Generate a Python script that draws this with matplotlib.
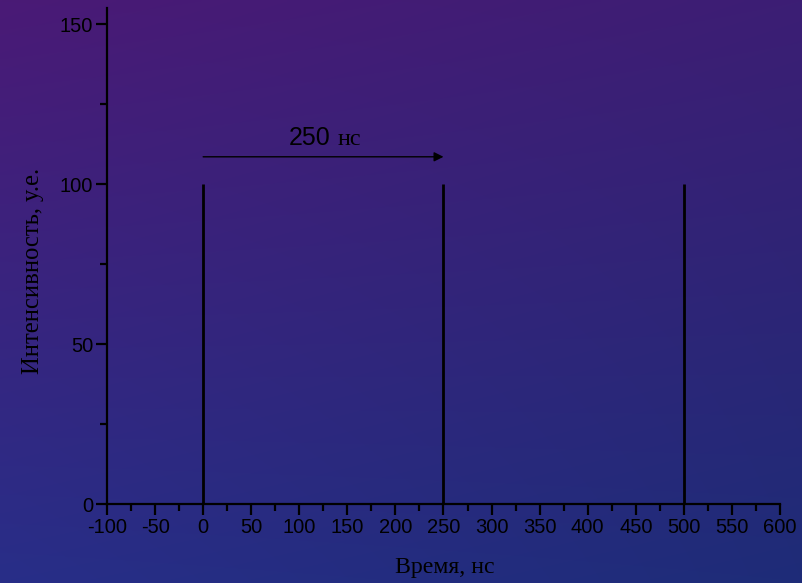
import numpy as np
import matplotlib
matplotlib.use("Agg")
import matplotlib.pyplot as plt
from matplotlib.ticker import MultipleLocator

plt.rcParams["axes.unicode_minus"] = False

# Pulse train: arrival times (ns) and intensities (a.u.)
pulse_times = [0, 250, 500]
pulse_heights = [100, 100, 100]
period_label = "250"
period_unit = "нс"
x_ticks = [-100, -50, 0, 50, 100, 150, 200, 250, 300, 350, 400, 450, 500, 550, 600]
y_ticks = [0, 50, 100, 150]

W, H = 803, 583
fig = plt.figure(figsize=(W / 100, H / 100), dpi=100)

# Purple-to-blue backdrop (bilinear blend between corner colours)
bg = fig.add_axes([0, 0, 1, 1], zorder=-10)
tl = np.array([74, 26, 118]) / 255
tr = np.array([60, 30, 116]) / 255
bl = np.array([40, 46, 136]) / 255
br = np.array([30, 44, 120]) / 255
ny, nx = 200, 260
v = np.linspace(0, 1, ny)[:, None, None]
u = np.linspace(0, 1, nx)[None, :, None]
img = (1 - v) * ((1 - u) * tl + u * tr) + v * ((1 - u) * bl + u * br)
bg.imshow(img, aspect="auto", extent=[0, 1, 1, 0], interpolation="bilinear")
bg.set_xlim(0, 1)
bg.set_ylim(1, 0)
bg.axis("off")

ax = fig.add_axes([107 / W, 1 - 504 / H, (780 - 107) / W, (504 - 8) / H])
ax.patch.set_alpha(0)

ax.vlines(pulse_times, 0, pulse_heights, color="black", lw=2.0)

ax.set_xlim(-100, 600)
ax.set_ylim(0, 155)
ax.set_xticks(x_ticks)
ax.set_yticks(y_ticks)
ax.xaxis.set_minor_locator(MultipleLocator(25))
ax.yaxis.set_minor_locator(MultipleLocator(25))

for s in ["top", "right"]:
    ax.spines[s].set_visible(False)
for s in ["left", "bottom"]:
    ax.spines[s].set_linewidth(1.6)
    ax.spines[s].set_color("black")
ax.spines["bottom"].set_bounds(-100, 600)

ax.tick_params(which="major", direction="out", length=8, width=1.6, color="black",
               labelsize=14.5, labelcolor="black", pad=2)
ax.tick_params(which="minor", direction="out", length=5, width=1.6, color="black")
for lab in ax.get_xticklabels() + ax.get_yticklabels():
    lab.set_fontfamily("Liberation Sans")

ax.set_xlabel("Время, нс", fontfamily="Liberation Serif", fontsize=17.2)
ax.set_ylabel("Интенсивность, у.е.", fontfamily="Liberation Serif", fontsize=17.7)
ax.xaxis.set_label_coords(0.502, -0.129)
ax.yaxis.set_label_coords(-0.11, 0.47)
ax.xaxis.label.set_va("center")
ax.yaxis.label.set_va("center")

# Period arrow between first two pulses
ax.annotate("", xy=(pulse_times[1], 108.5), xytext=(pulse_times[0], 108.5),
            arrowprops=dict(arrowstyle="-|>", color="black", lw=1.0,
                            mutation_scale=14, shrinkA=0, shrinkB=0))
ax.text(89.5, 112.2, period_label, fontfamily="Liberation Sans", fontsize=18,
        ha="left", va="baseline", color="black")
ax.text(139.4, 112.2, period_unit, fontfamily="Liberation Serif", fontsize=17.5,
        ha="left", va="baseline", color="black")

fig.savefig("out.png", dpi=100)
